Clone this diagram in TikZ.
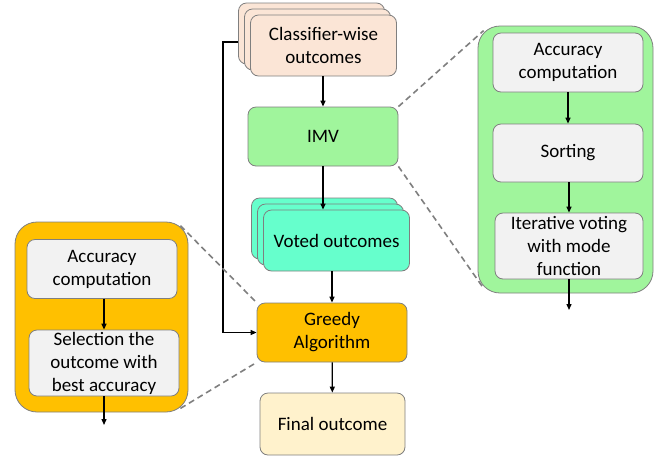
\documentclass[tikz,border=0pt]{standalone}
\usepackage{fontspec}
\setmainfont{Carlito}
\usetikzlibrary{arrows.meta,positioning,calc,shadows}
\definecolor{peach}{HTML}{FBE5D6}
\definecolor{imvgreen}{HTML}{A0F59C}
\definecolor{votedaqua}{HTML}{66FFCC}
\definecolor{gold}{HTML}{FFC000}
\definecolor{cream}{HTML}{FFF2CC}
\definecolor{stepbg}{HTML}{F2F2F2}
\definecolor{edge}{HTML}{7F7F7F}

\begin{document}
\begin{tikzpicture}[
  x=1pt,y=-1pt,
  every node/.style={font=\fontsize{19}{23}\selectfont},
  box/.style={draw=edge,line width=0.8pt,rounded corners=8pt,align=center,inner sep=0pt,minimum width=150pt,minimum height=59pt},
  stackbox/.style={box,fill=#1,minimum width=146pt,minimum height=61pt,
    copy shadow={shadow xshift=-12pt,shadow yshift=12pt,opacity=1,fill=#1,draw=edge},
    copy shadow={shadow xshift=-6pt,shadow yshift=6pt,opacity=1,fill=#1,draw=edge}},
  stepbox/.style={box,fill=stepbg},
  panel/.style={draw=edge,line width=0.8pt,rounded corners=22pt,inner sep=0pt},
  arr/.style={-{Triangle[length=6pt,width=5pt]},line width=1.3pt},
  link/.style={draw=edge,line width=1.6pt,dash pattern=on 6pt off 4pt},
]
\useasboundingbox (0,0) rectangle (666,459);

% main column
\node[stackbox=peach] (cls) at (323.5,45.5) {Classifier-wise\\outcomes};
\node[box,fill=imvgreen] (imv) at (323,136.5) {IMV};
\node[stackbox=votedaqua] (voted) at (336.5,240.5) {Voted outcomes};
\node[box,fill=gold] (greedy) at (332,332.5) {Greedy\\Algorithm};
\node[box,fill=cream,minimum width=145pt,minimum height=62pt] (final) at (332.5,424) {Final outcome};
\coordinate (clsside) at ($(cls.west)+(-12pt,3.5pt)$);

% greedy algorithm detail
\node[panel,fill=gold,minimum width=173pt,minimum height=190pt] (gpanel) at (101.5,317) {};
\node[stepbox] (gacc) at (102,269) {Accuracy\\computation};
\node[stepbox,minimum height=66pt] (gsel) at (104,363) {Selection the\\outcome with\\best accuracy};
\coordinate (gout) at (104,425);

% IMV detail
\node[panel,fill=imvgreen,minimum width=175pt,minimum height=267pt] (ipanel) at (565.5,159.5) {};
\node[stepbox] (iacc) at (568,62.5) {Accuracy\\computation};
\node[stepbox,minimum height=58pt] (isort) at (568,153) {Sorting};
\node[stepbox,minimum width=148pt,minimum height=66pt] (ivote) at (569,246) {Iterative voting\\with mode\\function};
\coordinate (iout) at (569,310);

\draw[arr] (cls.south -| imv) -- (imv);
\draw[arr] (imv.south) -- (imv.south |- voted.north);
\draw[arr] (voted.south -| greedy) -- (greedy);
\draw[arr] (greedy) -- (final);
\draw[arr] (clsside) -- ++(-15pt,0) |- (greedy.west);

\draw[arr] (gacc.south -| gsel) -- (gsel);
\draw[arr] (gsel.south) -- (gout);
\draw[arr] (iacc) -- (isort);
\draw[arr] (isort.south -| ivote) -- (ivote);
\draw[arr] (ivote.south) -- (iout);

\draw[link] (imv.north east) -- ($(ipanel.north west)+(6pt,-5pt)$);
\draw[link] (imv.south east) -- ($(ipanel.south west)+(6pt,5pt)$);
\draw[link] ($(gpanel.north east)+(-8pt,-4pt)$) -- (greedy.north west);
\draw[link] ($(gpanel.south east)+(-8pt,4pt)$) -- (greedy.south west);
\end{tikzpicture}
\end{document}
